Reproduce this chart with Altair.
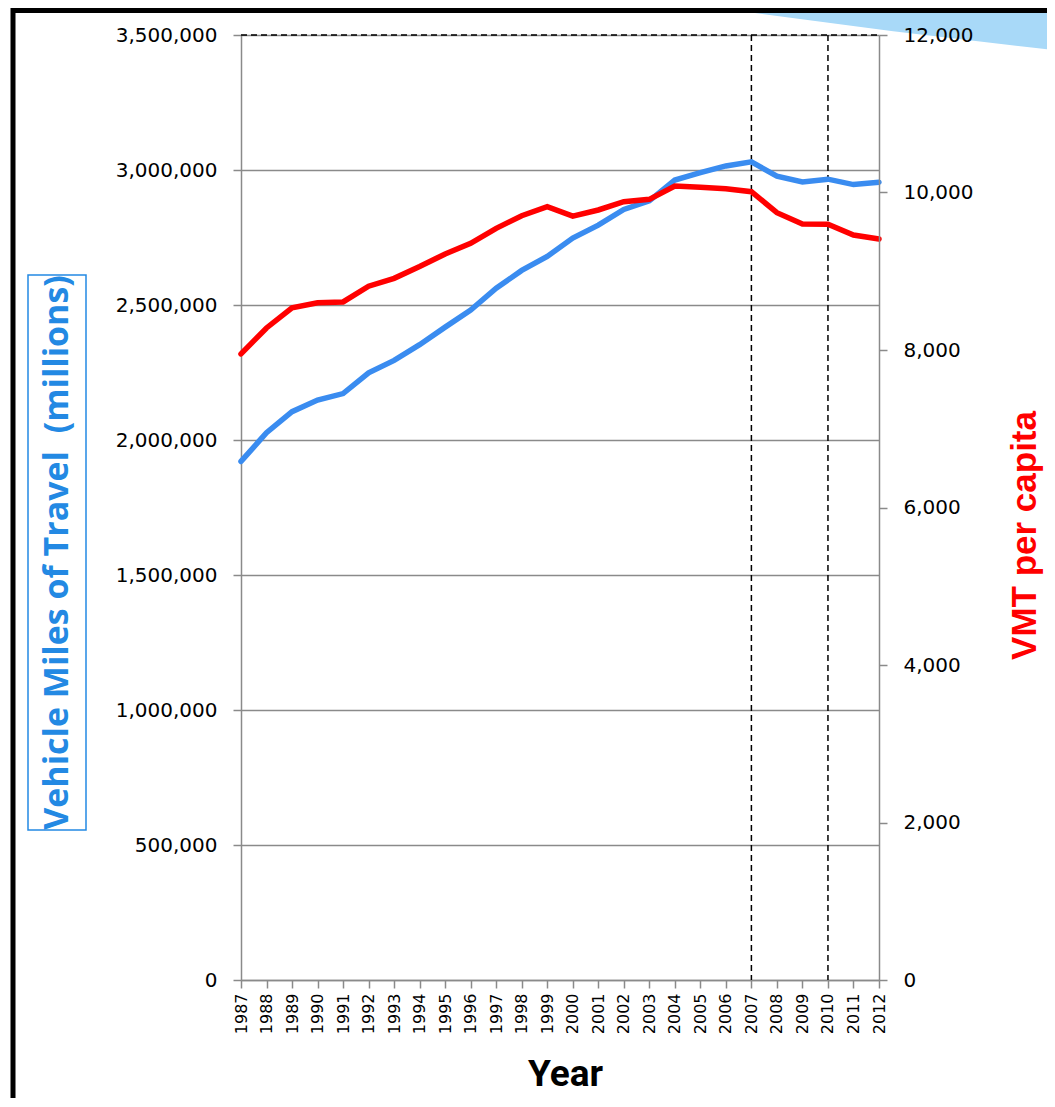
import altair as alt
import pandas as pd

# ---------------- data ----------------
years = list(range(1987, 2013))
vmt_millions = [1921000, 2027000, 2105000, 2148000, 2172000, 2249000, 2295000,
                2353000, 2418000, 2481000, 2562000, 2628000, 2680000, 2748000,
                2796000, 2854000, 2886000, 2963000, 2990000, 3015000, 3030000,
                2977000, 2956000, 2966000, 2946000, 2955000]
vmt_per_capita = [7950, 8280, 8535, 8600, 8610, 8810, 8910, 9060, 9220, 9355,
                  9545, 9705, 9820, 9700, 9778, 9883, 9913, 10082, 10066, 10048,
                  10010, 9744, 9600, 9596, 9460, 9410]
left_ticks = [0, 500000, 1000000, 1500000, 2000000, 2500000, 3000000, 3500000]
right_ticks = [0, 2000, 4000, 6000, 8000, 10000, 12000]
marker_years = [2007, 2010]

df = pd.DataFrame({"year": years, "vmt": vmt_millions, "pc": vmt_per_capita})
markers = pd.DataFrame({"year": marker_years})
one = pd.DataFrame({"a": [0]})

# ---------------- style ----------------
W, H = 638, 945
TOTAL_W, TOTAL_H = 1039, 1090
GRAY = "#8a8a8a"
BLUE = "#3a8cf0"
TBLUE = "#2389e3"
RED = "#ff0000"
LABEL_FONT = "DejaVu Sans"

x_enc = alt.X(
    "year:Q",
    scale=alt.Scale(domain=[1987, 2012], nice=False, zero=False),
    axis=alt.Axis(values=years, format="d", labelAngle=270, labelFontSize=16,
                  labelFont=LABEL_FONT, labelColor="black", labelPadding=5,
                  tickSize=8, tickColor=GRAY, tickWidth=1.5, domainColor=GRAY,
                  domainWidth=1.5, grid=False, title="Year",
                  titleFont="Roboto", titleFontSize=37,
                  titleFontWeight="bold", titleColor="black",
                  titleX=324, titleY=105, titleAlign="center",
                  titleBaseline="alphabetic"),
)

blue = alt.Chart(df).mark_line(color=BLUE, strokeWidth=5.5, strokeCap="round").encode(
    x=x_enc,
    y=alt.Y("vmt:Q",
            scale=alt.Scale(domain=[0, 3500000], nice=False),
            axis=alt.Axis(orient="left", values=left_ticks, format=",d",
                          grid=True, gridColor=GRAY, gridWidth=1.5,
                          domainColor=GRAY, domainWidth=1.5, tickColor=GRAY,
                          tickWidth=1.5, tickSize=8, labelFontSize=20,
                          labelFont=LABEL_FONT, labelColor="black",
                          labelPadding=16,
                          title="Vehicle Miles of Travel\u00a0 (millions)",
                          titleColor=TBLUE, titleFont="Open Sans",
                          titleFontSize=34, titleFontWeight="bold",
                          titleAngle=270, titleX=-184, titleY=517,
                          titleAlign="center", titleBaseline="middle")),
)

red = alt.Chart(df).mark_line(color=RED, strokeWidth=5.5, strokeCap="round").encode(
    x=x_enc,
    y=alt.Y("pc:Q",
            scale=alt.Scale(domain=[0, 12000], nice=False),
            axis=alt.Axis(orient="right", values=right_ticks, format=",d",
                          grid=False, domainColor=GRAY, domainWidth=1.5,
                          tickColor=GRAY, tickWidth=1.5, tickSize=8,
                          labelFontSize=20, labelFont=LABEL_FONT,
                          labelColor="black", labelPadding=16, zindex=1,
                          title="VMT per capita", titleColor=RED,
                          titleFont="Liberation Sans", titleFontSize=35,
                          titleFontWeight="bold", titleAngle=270,
                          titleX=145, titleY=500, titleAlign="center",
                          titleBaseline="middle")),
)

# dashed reference lines at 2007 and 2010
vlines = alt.Chart(markers).mark_rule(color="black", strokeDash=[6, 4], strokeWidth=1.5).encode(
    x=x_enc,
    y=alt.value(0),
    y2=alt.value(H),
)

# dashed top border of the plot area
top_line = alt.Chart(one).mark_rule(color="black", strokeDash=[6, 4], strokeWidth=1.5).encode(
    x=alt.value(0), x2=alt.value(W), y=alt.value(0)
)

# decorative slide elements
swoosh = alt.Chart(one).mark_arc(theta=3.1416, theta2=3.55, radius=9972,
                                 color="#a8d9f8").encode(
    x=alt.value(1887), y=alt.value(-9899)
)
frame_left = alt.Chart(one).mark_rule(color="black", strokeWidth=5).encode(
    x=alt.value(-228), y=alt.value(-30), y2=alt.value(H + 200)
)
frame_top = alt.Chart(one).mark_rule(color="black", strokeWidth=5).encode(
    x=alt.value(-230), x2=alt.value(1000), y=alt.value(-24.5)
)
title_box = alt.Chart(one).mark_rect(fillOpacity=0, stroke=TBLUE, strokeWidth=1.5).encode(
    x=alt.value(-213), x2=alt.value(-155), y=alt.value(240), y2=alt.value(795)
)

chart = alt.layer(
    swoosh, frame_left, frame_top, title_box, vlines, top_line, blue, red
).resolve_scale(y="independent").properties(
    width=W, height=H,
    autosize=alt.AutoSizeParams(type="none"),
    padding={"left": 233, "top": 27, "right": TOTAL_W - 233 - W,
             "bottom": TOTAL_H - 27 - H},
    background="white",
).configure_view(stroke=None)

chart.save("out.html", embed_options={"renderer": "svg", "actions": False})
